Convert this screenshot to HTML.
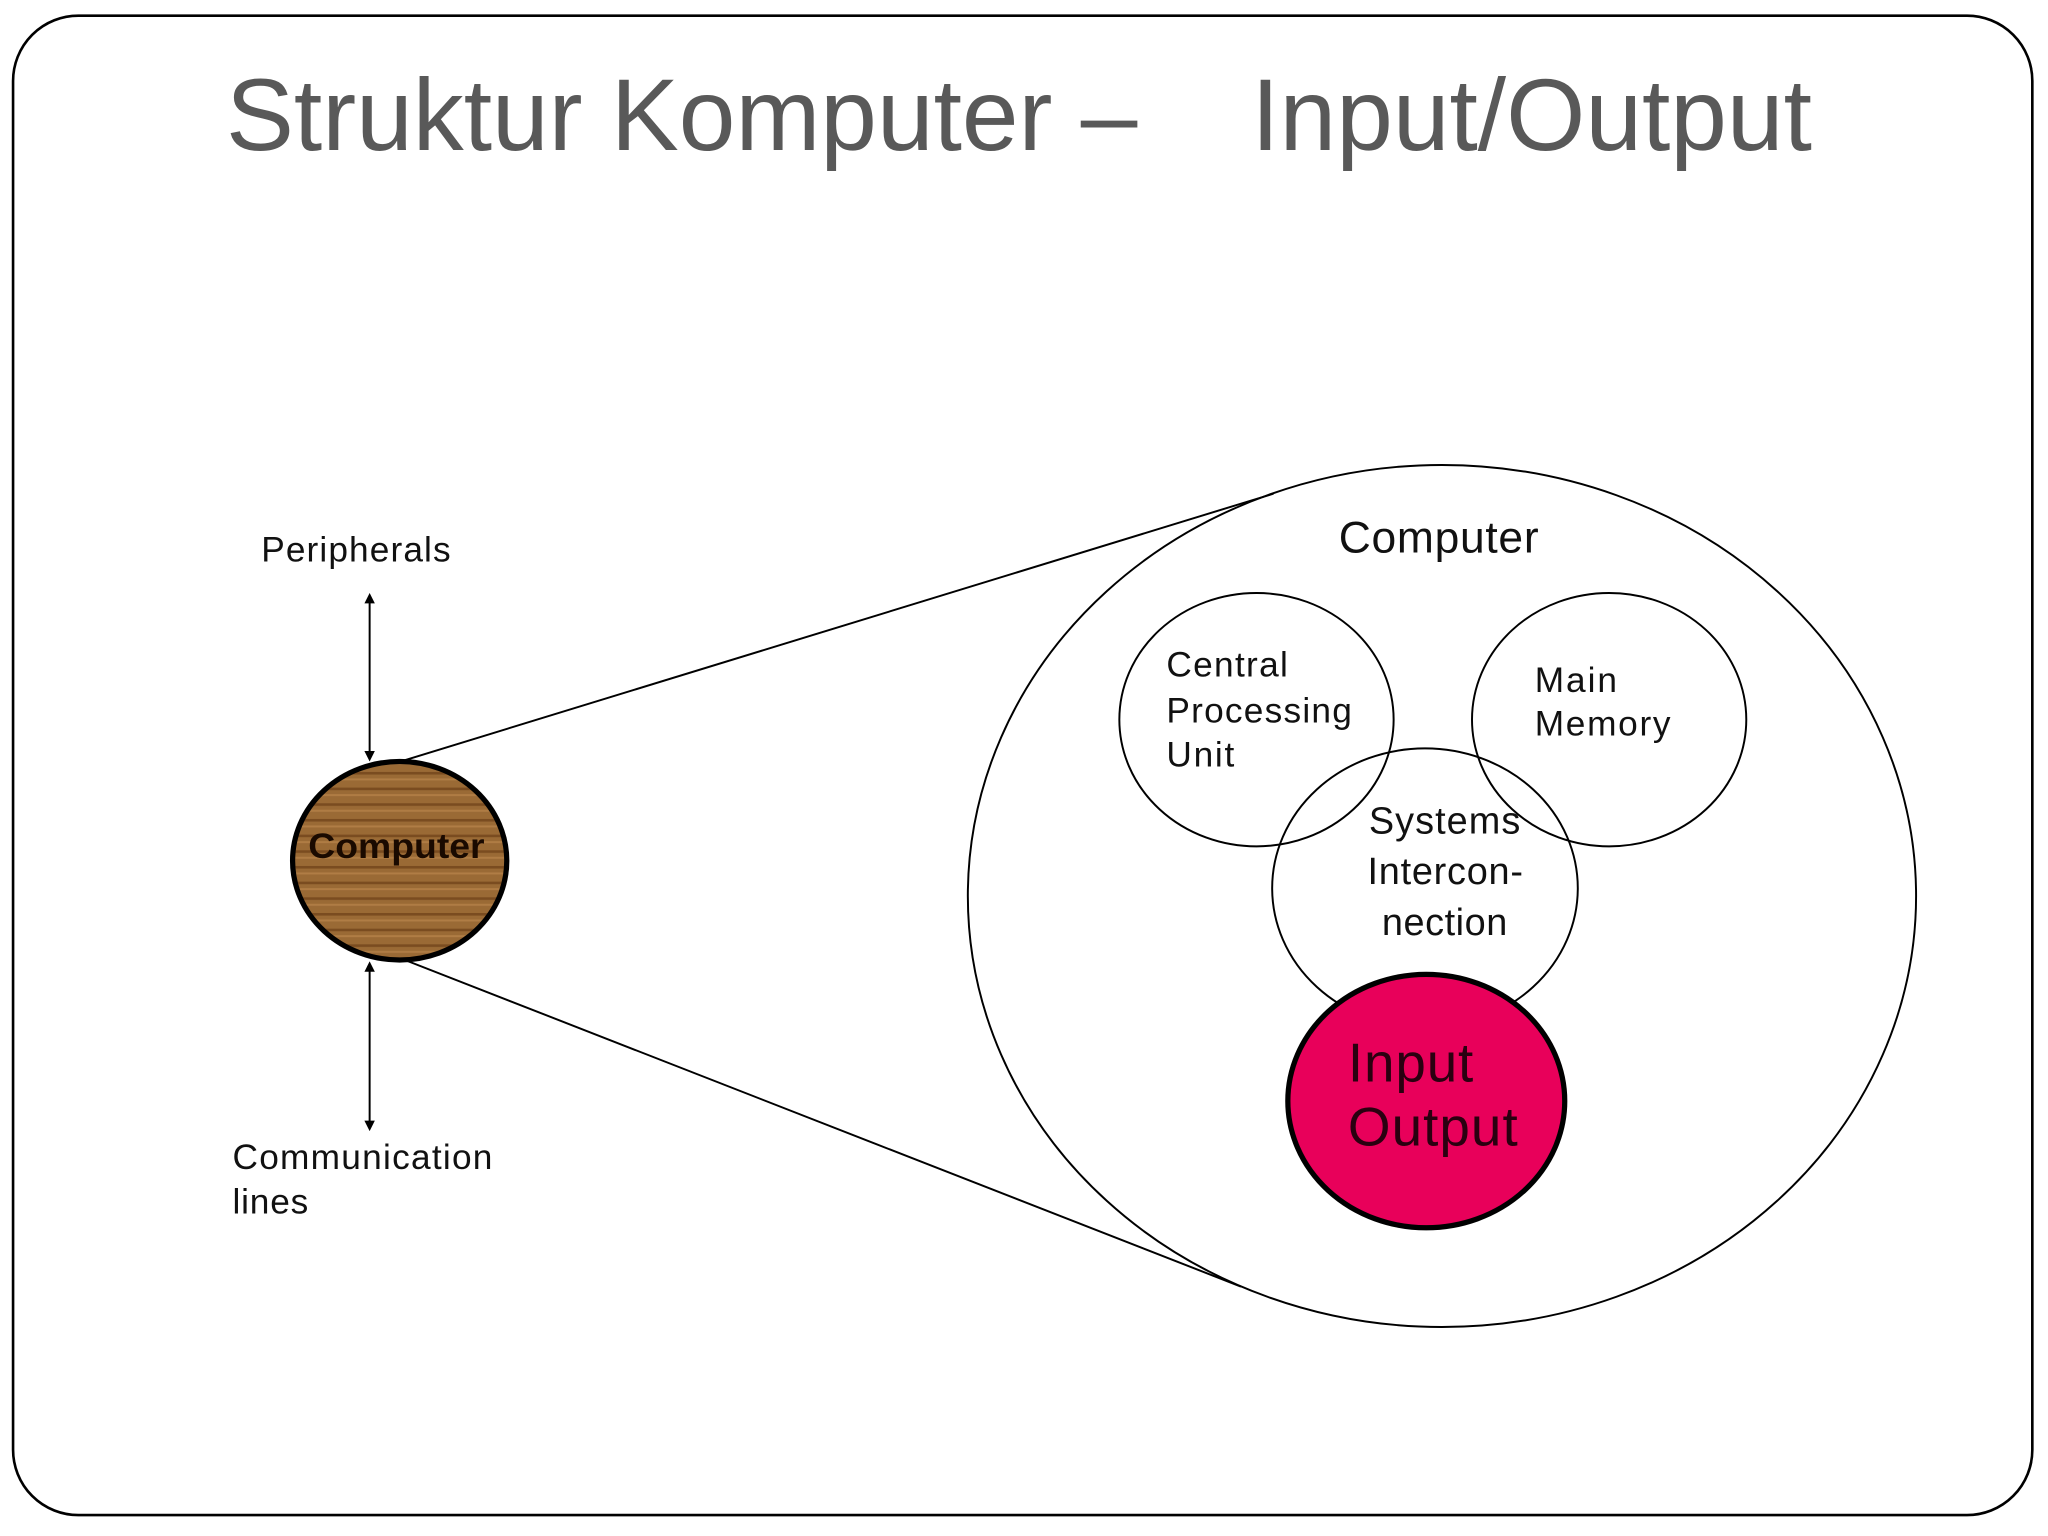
<!DOCTYPE html>
<html><head><meta charset="utf-8"><style>
html,body{margin:0;padding:0;background:#fff;width:2048px;height:1536px;overflow:hidden}
svg{display:block}
text{font-family:"Liberation Sans",sans-serif}
</style></head><body>
<svg width="2048" height="1536" viewBox="0 0 1568 1176" xmlns="http://www.w3.org/2000/svg">
<defs>
<marker id="ah" markerWidth="8" markerHeight="8" refX="4" refY="4" orient="auto-start-reverse" markerUnits="userSpaceOnUse"><path d="M0,0 L8,4 L0,8 Z" fill="#000"/></marker>
<pattern id="wood" width="200" height="12" patternUnits="userSpaceOnUse">
<rect width="200" height="12" fill="#9a6a35"/>
<rect y="3" width="200" height="2" fill="#7a4c20"/>
<rect y="8" width="200" height="1.5" fill="#b07d45"/>
</pattern>
</defs>
<rect x="10" y="12" width="1546" height="1148" rx="50" ry="50" fill="#fff" stroke="#000" stroke-width="2"/>
<text x="173" y="115" font-size="78" fill="#595959">Struktur Komputer –</text>
<text x="958" y="115" font-size="78" fill="#595959">Input/Output</text>
<ellipse cx="1104" cy="686" rx="363" ry="330" fill="none" stroke="#000" stroke-width="1.5"/>
<line x1="310" y1="582" x2="975" y2="378" stroke="#000" stroke-width="1.5"/>
<line x1="310" y1="735" x2="950" y2="985" stroke="#000" stroke-width="1.5"/>
<ellipse cx="306" cy="659" rx="82" ry="76" fill="url(#wood)" stroke="#000" stroke-width="4"/>
<text x="236" y="657" font-size="27" font-weight="bold" fill="#1a0a00" textLength="135" lengthAdjust="spacingAndGlyphs">Computer</text>
<line x1="283" y1="458" x2="283" y2="579" stroke="#000" stroke-width="1.5" marker-start="url(#ah)" marker-end="url(#ah)"/>
<line x1="283" y1="740" x2="283" y2="862" stroke="#000" stroke-width="1.5" marker-start="url(#ah)" marker-end="url(#ah)"/>
<text x="200" y="430" font-size="27" fill="#111" textLength="145">Peripherals</text>
<text x="178" y="895" font-size="27" fill="#111" textLength="199">Communication</text>
<text x="178" y="929" font-size="27" fill="#111" textLength="58">lines</text>
<text x="1025" y="423" font-size="34" fill="#111" textLength="153">Computer</text>
<ellipse cx="962" cy="551" rx="105" ry="97" fill="none" stroke="#000" stroke-width="1.5"/>
<ellipse cx="1232" cy="551" rx="105" ry="97" fill="none" stroke="#000" stroke-width="1.5"/>
<ellipse cx="1091" cy="680" rx="117" ry="107" fill="none" stroke="#000" stroke-width="1.5"/>
<text font-size="27" fill="#111"><tspan x="893" y="518" textLength="93">Central</tspan><tspan x="893" y="553" textLength="142">Processing</tspan><tspan x="893" y="587" textLength="52">Unit</tspan></text>
<text font-size="27" fill="#111"><tspan x="1175" y="530" textLength="63">Main</tspan><tspan x="1175" y="563" textLength="104">Memory</tspan></text>
<text font-size="29" fill="#111"><tspan x="1048" y="638" textLength="116">Systems</tspan><tspan x="1047" y="677" textLength="119">Intercon-</tspan><tspan x="1058" y="716" textLength="96">nection</tspan></text>
<ellipse cx="1092" cy="843" rx="106" ry="97" fill="#e8005a" stroke="#000" stroke-width="4"/>
<text font-size="42" fill="#2a0010"><tspan x="1032" y="828" textLength="96">Input</tspan><tspan x="1032" y="877" textLength="130">Output</tspan></text>
</svg>
</body></html>
